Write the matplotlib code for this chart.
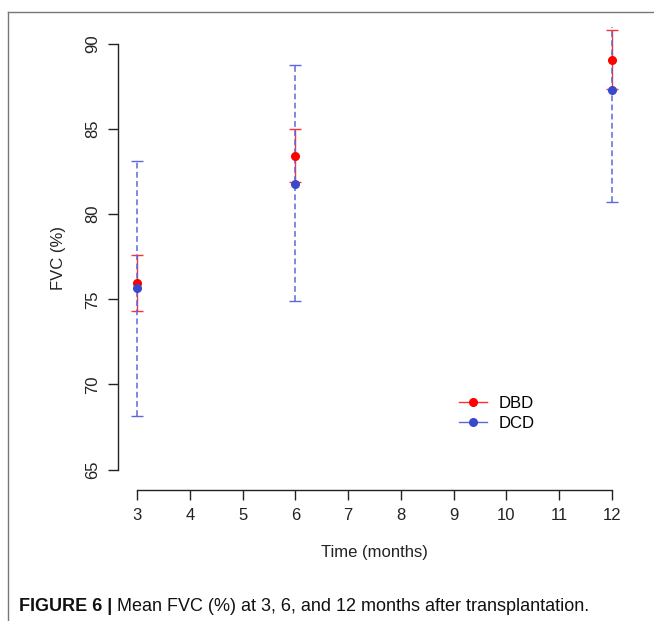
import numpy as np
import matplotlib
matplotlib.use("Agg")
import matplotlib.pyplot as plt
from matplotlib import font_manager
from matplotlib.lines import Line2D

# Mean FVC (%) with confidence limits
months = [3, 6, 12]
dbd_mean = [75.95, 83.4, 89.05]
dbd_low = [74.3, 81.9, 87.35]
dbd_high = [77.6, 85.0, 90.85]
dcd_mean = [75.65, 81.8, 87.3]
dcd_low = [68.15, 74.9, 80.7]
dcd_high = [83.1, 88.75, 93.9]

x_ticks = list(range(3, 13))
y_ticks = [65, 70, 75, 80, 85, 90]

names = {f.name for f in font_manager.fontManager.ttflist}
base_font = "Liberation Sans" if "Liberation Sans" in names else "DejaVu Sans"
plt.rcParams['font.family'] = base_font

red = "#ff0000"
red_line = "#ff3030"
blue = "#3a48cc"
blue_line = "#5a68dd"

fig = plt.figure(figsize=(6.54, 6.21), dpi=100)
W, H = 654, 621
ax = fig.add_axes([118 / W, 1 - 490 / H, (631 - 118) / W, (490 - 27) / H])

def yerr(mean, low, high):
    m = np.array(mean)
    return [m - np.array(low), np.array(high) - m]

# DBD: solid red bars
ax.errorbar(months, dbd_mean, yerr=yerr(dbd_mean, dbd_low, dbd_high), fmt='none',
            ecolor=red_line, elinewidth=1.0, capsize=4.3, capthick=1.0, zorder=2)
# DCD: dashed blue bars drawn on top
eb = ax.errorbar(months, dcd_mean, yerr=yerr(dcd_mean, dcd_low, dcd_high), fmt='none',
                 ecolor=blue_line, elinewidth=1.1, capsize=4.3, capthick=1.0, zorder=3)
for lc in eb[2]:
    lc.set_linestyle((0, (3.8, 2.2)))
ax.plot(months, dbd_mean, 'o', color=red, markersize=5.5, zorder=4)
ax.plot(months, dcd_mean, 'o', color=blue, markersize=5.5, zorder=5)

ax.set_xlim(2.64, 12.36)
ax.set_ylim(63.8, 91.0)

for s in ['top', 'right']:
    ax.spines[s].set_visible(False)
ax.spines['left'].set_bounds(65, 90)
ax.spines['bottom'].set_bounds(3, 12)
for s in ['left', 'bottom']:
    ax.spines[s].set_linewidth(1.0)
    ax.spines[s].set_color('#222222')

ax.set_xticks(x_ticks)
ax.set_yticks(y_ticks)
ax.tick_params(axis='both', direction='out', length=7, width=1.0, color='#222222',
               labelsize=12, labelcolor='#222222')
ax.tick_params(axis='x', pad=6)
ax.tick_params(axis='y', pad=6)
for lab in ax.get_yticklabels():
    lab.set_rotation(90)
    lab.set_va('center')

ax.set_xlabel('Time (months)', fontsize=12, color='#222222', labelpad=16)
ax.set_ylabel('FVC (%)', fontsize=12, color='#222222', labelpad=14)

handles = [Line2D([0], [0], color=red_line, lw=1.0, marker='o', markersize=5.5,
                  markerfacecolor=red, markeredgecolor=red),
           Line2D([0], [0], color=blue_line, lw=1.0, marker='o', markersize=5.5,
                  markerfacecolor=blue, markeredgecolor=blue)]
ax.legend(handles, ['DBD', 'DCD'], loc='upper left', frameon=False, fontsize=12,
          bbox_to_anchor=(447 / W, 1 - 384 / H), bbox_transform=fig.transFigure,
          handlelength=1.7, handletextpad=0.7, labelspacing=0.3, borderpad=0.2)

# outer frame of the figure panel
fig.add_artist(Line2D([8 / W, 1], [1 - 12 / H, 1 - 12 / H], color='#777777', lw=1.0))
fig.add_artist(Line2D([8 / W, 8 / W], [0, 1 - 12 / H], color='#777777', lw=1.0))

t1 = fig.text(19 / W, 1 - 611 / H, 'FIGURE 6 |', fontsize=13, fontweight='bold',
              color='#111111')
ax.annotate(' Mean FVC (%) at 3, 6, and 12 months after transplantation.',
            xy=(1, 0), xycoords=t1, va='bottom', ha='left', fontsize=13,
            color='#111111', annotation_clip=False)

fig.savefig('out.png', dpi=100)
